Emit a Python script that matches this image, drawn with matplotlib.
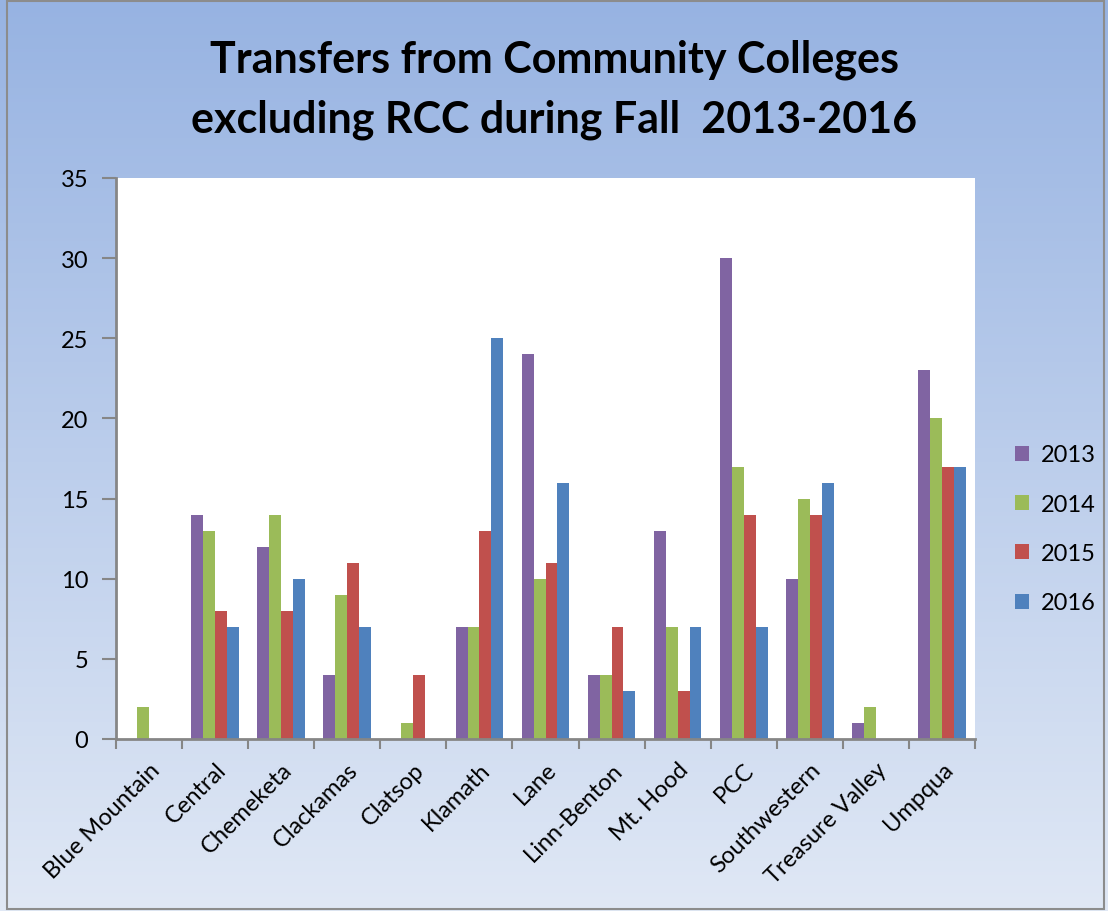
import numpy as np
import matplotlib
matplotlib.use("Agg")
import matplotlib.pyplot as plt
from matplotlib.patches import Rectangle

colleges = ["Blue Mountain", "Central", "Chemeketa", "Clackamas", "Clatsop",
            "Klamath", "Lane", "Linn-Benton", "Mt. Hood", "PCC",
            "Southwestern", "Treasure Valley", "Umpqua"]
years = ["2013", "2014", "2015", "2016"]
v2013 = [0, 14, 12, 4, 0, 7, 24, 4, 13, 30, 10, 1, 23]
v2014 = [2, 13, 14, 9, 1, 7, 10, 4, 7, 17, 15, 2, 20]
v2015 = [0, 8, 8, 11, 4, 13, 11, 7, 3, 14, 14, 0, 17]
v2016 = [0, 7, 10, 7, 0, 25, 16, 3, 7, 7, 16, 0, 17]
colors = ["#8064a2", "#9bbb59", "#c0504d", "#4f81bd"]

plt.rcParams['font.family'] = ['Lato', 'DejaVu Sans']

W, H = 1108, 912
fig = plt.figure(figsize=(W / 100, H / 100), dpi=100)

# gradient background
bg = fig.add_axes([0, 0, 1, 1], zorder=0)
top = np.array([0x97, 0xb3, 0xe2]) / 255
bot = np.array([0xe0, 0xe8, 0xf5]) / 255
t = np.linspace(0, 1, 256)[:, None]
grad = top * (1 - t) + bot * t
bg.imshow(grad[:, None, :].repeat(2, axis=1), aspect='auto', extent=[0, 1, 0, 1])
bg.add_patch(Rectangle((0.006, 0.002), 0.99, 0.996, fill=False,
                       edgecolor="#8c8c8c", linewidth=1.5, transform=bg.transAxes))
bg.axis('off')

ax = fig.add_axes([116 / W, 1 - 740 / H, (975 - 116) / W, (740 - 179) / H], zorder=1)
ax.set_facecolor("white")

x = np.arange(len(colleges))
bw = 0.18
series = [v2013, v2014, v2015, v2016]
for i, (vals, c, lab) in enumerate(zip(series, colors, years)):
    ax.bar(x + (i - 1.5) * bw, vals, bw, color=c, label=lab, zorder=2)

ax.set_xlim(-0.5, len(colleges) - 0.5)
ax.set_ylim(0, 35)
ax.set_yticks(range(0, 36, 5))
ax.set_xticks(x)
ax.set_xticklabels(colleges, rotation=45, ha='right', rotation_mode='anchor', fontsize=17)
ax.set_xticks(np.arange(-0.5, len(colleges), 1), minor=True)
ax.tick_params(axis='x', which='major', length=0, pad=14)
ax.tick_params(axis='x', which='minor', length=7, width=1.5, color="#868686")
ax.tick_params(axis='y', length=10, width=1.5, color="#868686", labelsize=17, pad=10)
for s in ['top', 'right']:
    ax.spines[s].set_visible(False)
for s in ['left', 'bottom']:
    ax.spines[s].set_color("#868686")
    ax.spines[s].set_linewidth(2)

fig.text(0.5, 1 - 60 / H, "Transfers from Community Colleges", ha='center', va='center',
         fontsize=31, fontweight='bold')
fig.text(0.5, 1 - 120 / H, "excluding RCC during Fall  2013-2016", ha='center', va='center',
         fontsize=31, fontweight='bold')

fig.legend(loc='center left', bbox_to_anchor=(1015 / W, 1 - 530 / H), frameon=False,
           fontsize=17, handlelength=0.6, handleheight=0.6, handletextpad=0.5,
           labelspacing=1.2, borderpad=0, borderaxespad=0)

fig.savefig("out.png", dpi=100)
